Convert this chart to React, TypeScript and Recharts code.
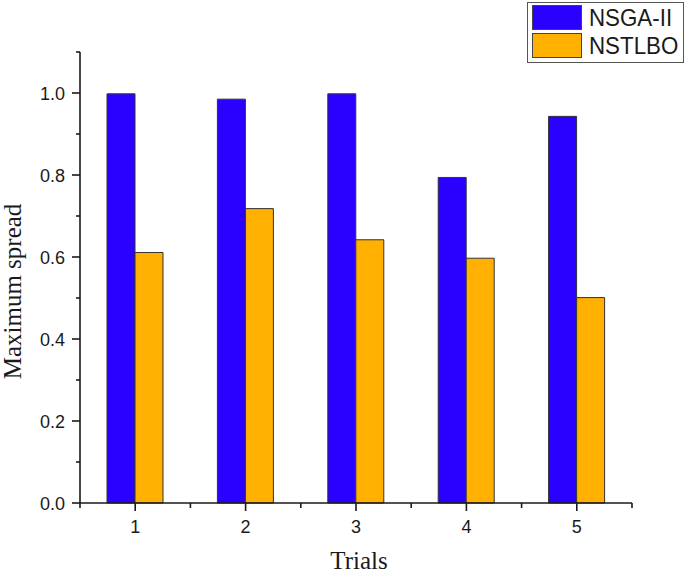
import { Bar, BarChart, Label, Legend, XAxis, YAxis } from 'recharts';

// Maximum spread per trial, NSGA-II vs NSTLBO.

const trials = ['1', '2', '3', '4', '5'];
const nsga2 = [0.998, 0.985, 0.998, 0.794, 0.943];
const nstlbo = [0.611, 0.718, 0.642, 0.597, 0.501];
const yTicks = [0, 0.1, 0.2, 0.3, 0.4, 0.5, 0.6, 0.7, 0.8, 0.9, 1.0, 1.1];

const rows = trials.map((t, i) => ({ trial: t, nsga2: nsga2[i], nstlbo: nstlbo[i] }));

const W = 685;
const H = 574;
const MARGIN = { top: 52, right: 53, left: 0, bottom: 0 };
const HALF_BAND = (W - 80 - MARGIN.right) / trials.length / 2;
const INK = '#1a1a1a';
const SANS = '"Liberation Sans", Arial, sans-serif';
const SERIF = '"Liberation Serif", "Times New Roman", serif';

function XTick({ x, y, payload, index }: any) {
  return (
    <g>
      <line x1={x} x2={x} y1={y} y2={y + 8} stroke={INK} strokeWidth={1.6} />
      <line x1={x + HALF_BAND} x2={x + HALF_BAND} y1={y} y2={y + 5} stroke={INK} strokeWidth={1.6} />
      {index === 0 && (
        <line x1={x - HALF_BAND} x2={x - HALF_BAND} y1={y} y2={y + 5} stroke={INK} strokeWidth={1.6} />
      )}
      <text x={x} y={y + 30} textAnchor="middle" fontFamily={SANS} fontSize={18} fill={INK}>
        {payload.value}
      </text>
    </g>
  );
}

function YTick({ x, y, payload }: any) {
  const major = Math.round(payload.value * 10) % 2 === 0;
  return (
    <g>
      <line x1={x - (major ? 8 : 4)} x2={x} y1={y} y2={y} stroke={INK} strokeWidth={1.6} />
      {major && (
        <text x={x - 15} y={y + 6.5} textAnchor="end" fontFamily={SANS} fontSize={18} fill={INK}>
          {payload.value.toFixed(1)}
        </text>
      )}
    </g>
  );
}

function LegendBox({ payload }: any) {
  return (
    <div
      style={{
        width: 157,
        boxSizing: 'border-box',
        border: '1px solid #555',
        background: '#fff',
        padding: '2px 4px 4px 4px',
      }}
    >
      {(payload || []).map((p: any, i: number) => (
        <div key={p.value} style={{ display: 'flex', alignItems: 'center', height: 25, marginTop: i ? 3 : 0 }}>
          <span
            style={{
              width: 50,
              height: 25,
              boxSizing: 'border-box',
              background: p.color,
              border: '1px solid #444',
              display: 'inline-block',
              flex: 'none',
            }}
          />
          <span
            style={{
              marginLeft: 7,
              fontFamily: SANS,
              fontSize: 24,
              color: INK,
              lineHeight: '25px',
              display: 'inline-block',
              transform: 'scaleX(0.93)',
              transformOrigin: 'left center',
              whiteSpace: 'nowrap',
            }}
          >
            {p.value}
          </span>
        </div>
      ))}
    </div>
  );
}

export default function App() {
  return (
    <div style={{ position: 'absolute', left: 0, top: 0, background: '#fff' }}>
      <BarChart width={W} height={H} data={rows} margin={MARGIN} barGap={0} barSize={28}>
        <XAxis
          dataKey="trial"
          height={71}
          tickSize={0}
          tickMargin={0}
          tickLine={false}
          tick={<XTick />}
          axisLine={{ stroke: INK, strokeWidth: 1.6 }}
        >
          <Label
            content={({ viewBox }: any) => (
              <text
                x={viewBox.x + viewBox.width / 2 + 3}
                y={viewBox.y + 66}
                textAnchor="middle"
                fontFamily={SERIF}
                fontSize={25}
                fill={INK}
              >
                Trials
              </text>
            )}
          />
        </XAxis>
        <YAxis
          width={80}
          domain={[0, 1.1]}
          ticks={yTicks}
          interval={0}
          tickSize={0}
          tickMargin={0}
          tickLine={false}
          tick={<YTick />}
          axisLine={{ stroke: INK, strokeWidth: 1.6 }}
        >
          <Label
            content={({ viewBox }: any) => {
              const cx = viewBox.x + 21;
              const cy = viewBox.y + viewBox.height / 2 + 14;
              return (
                <text
                  x={cx}
                  y={cy}
                  transform={`rotate(-90 ${cx} ${cy})`}
                  textAnchor="middle"
                  fontFamily={SERIF}
                  fontSize={25}
                  fill={INK}
                >
                  Maximum spread
                </text>
              );
            }}
          />
        </YAxis>
        <Legend
          layout="horizontal"
          align="center"
          verticalAlign="middle"
          content={<LegendBox />}
          wrapperStyle={{ left: 527, top: 2, width: 157, height: 62 }}
        />
        <Bar dataKey="nsga2" name="NSGA-II" fill="#2A00FF" stroke="#333" strokeWidth={1} isAnimationActive={false} />
        <Bar dataKey="nstlbo" name="NSTLBO" fill="#FFB000" stroke="#333" strokeWidth={1} isAnimationActive={false} />
      </BarChart>
    </div>
  );
}
